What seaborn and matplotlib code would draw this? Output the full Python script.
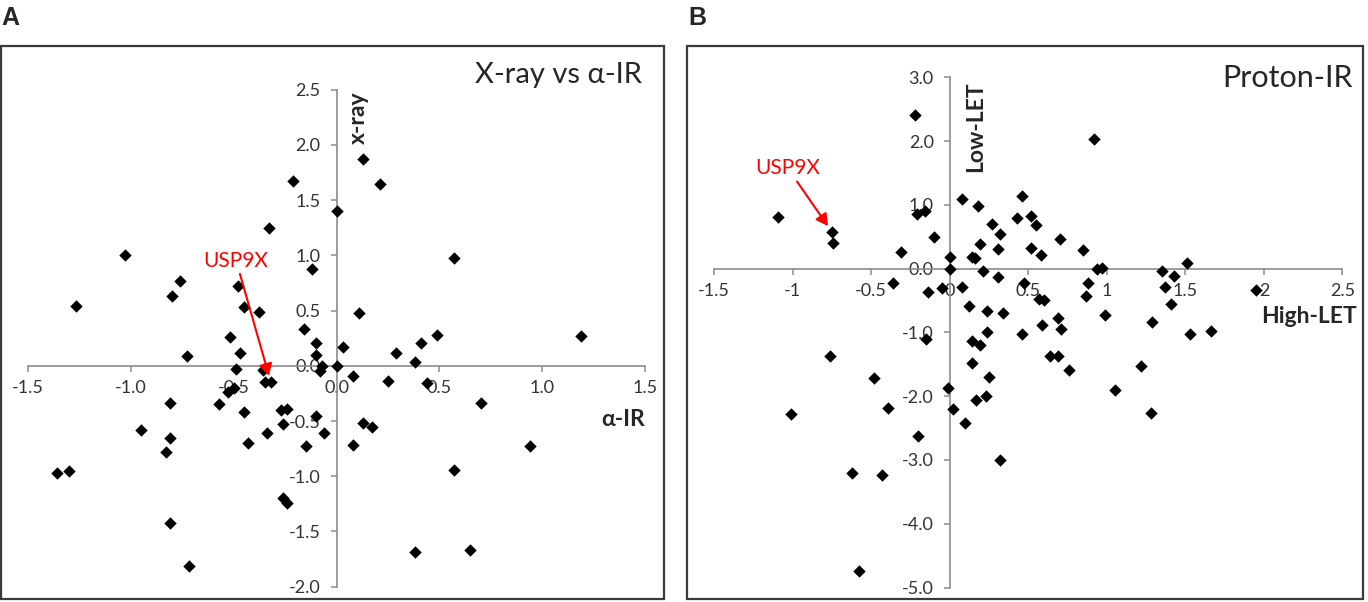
import numpy as np
import pandas as pd
import matplotlib
matplotlib.use('Agg')
import matplotlib.pyplot as plt
from matplotlib.patches import Rectangle
import seaborn as sns

# panel A : x-ray (y) vs alpha-IR (x)
a_ir = [-1.27, -1.03, -0.76, -0.80, -0.21, -0.33, 0.00, -0.48, -0.45, -0.38,
        -0.12, -0.16, -0.52, 0.13, 0.21, 0.57, 0.11, 0.49, 1.19, 0.41,
        0.03, 0.00, 0.08, 0.29, 0.38, 0.25, 0.44, 0.70, 0.13, 0.17,
        0.08, 0.94, 0.57, 0.38, 0.65, -0.73, -0.47, -0.49, -0.36, -0.35,
        -0.32, -0.53, -0.50, -0.57, -0.81, -0.45, -0.95, -0.81, -0.83, -0.43,
        -0.34, -0.27, -0.24, -0.26, -1.36, -1.30, -0.81, -0.26, -0.24, -0.72,
        -0.10, -0.10, -0.07, -0.08, -0.10, -0.06, -0.15]
a_xray = [0.54, 1.00, 0.77, 0.63, 1.67, 1.25, 1.40, 0.72, 0.53, 0.49,
          0.88, 0.33, 0.26, 1.87, 1.65, 0.98, 0.48, 0.28, 0.27, 0.21,
          0.17, 0.00, -0.09, 0.12, 0.03, -0.14, -0.16, -0.34, -0.52, -0.55,
          -0.72, -0.73, -0.94, -1.69, -1.67, 0.09, 0.12, -0.03, -0.04, -0.15,
          -0.15, -0.24, -0.20, -0.35, -0.34, -0.42, -0.58, -0.65, -0.78, -0.70,
          -0.61, -0.40, -0.39, -0.53, -0.97, -0.95, -1.42, -1.20, -1.24, -1.81,
          0.21, 0.10, 0.00, -0.05, -0.45, -0.61, -0.73]
a_usp9x = (-0.32, -0.15)

# panel B : low-LET (y) vs high-LET (x), proton
b_high = [-0.22, -1.09, -0.75, -0.74, -0.21, -0.16, -0.10, -0.31, 0.00, 0.00,
          -0.36, -0.14, -0.05, 0.08, 0.18, 0.46, 0.43, 0.52, 0.55, 0.27,
          0.32, 0.19, 0.31, 0.14, 0.16, 0.21, 0.31, 0.52, 0.58, 0.70,
          0.85, 0.94, 0.97, 0.88, 0.87, 0.47, 0.57, 0.60, 0.99, 0.69,
          0.71, 0.59, 0.46, 0.34, 0.24, 0.12, 0.08, 0.24, 0.14, 0.19,
          -0.15, 0.14, 0.64, 0.69, 0.76, 0.25, -0.01, 1.05, 0.02, 0.17,
          0.23, 0.10, 0.32, -0.39, -0.20, -0.43, -0.76, -0.48, -1.01, -0.62,
          -0.58, 0.92, 1.35, 1.43, 1.51, 1.37, 1.41, 1.95, 1.29, 1.53,
          1.66, 1.22, 1.28]
b_low = [2.41, 0.81, 0.58, 0.40, 0.85, 0.91, 0.50, 0.26, 0.18, 0.00,
         -0.23, -0.36, -0.31, 1.09, 0.99, 1.14, 0.79, 0.83, 0.68, 0.70,
         0.55, 0.38, 0.31, 0.19, 0.17, -0.03, -0.13, 0.32, 0.22, 0.46,
         0.30, -0.01, 0.01, -0.22, -0.43, -0.23, -0.48, -0.49, -0.72, -0.77,
         -0.94, -0.88, -1.02, -0.69, -0.67, -0.58, -0.28, -1.00, -1.14, -1.19,
         -1.11, -1.48, -1.37, -1.37, -1.59, -1.70, -1.87, -1.90, -2.20, -2.06,
         -1.99, -2.42, -3.00, -2.18, -2.63, -3.24, -1.37, -1.71, -2.28, -3.21,
         -4.74, 2.03, -0.03, -0.11, 0.09, -0.29, -0.55, -0.34, -0.83, -1.03,
         -0.98, -1.53, -2.27]
b_usp9x = (-0.75, 0.58)

a_xticks = [-1.5, -1.0, -0.5, 0.0, 0.5, 1.0, 1.5]
a_yticks = [-2.0, -1.5, -1.0, -0.5, 0.0, 0.5, 1.0, 1.5, 2.0, 2.5]
b_xticks = [-1.5, -1, -0.5, 0, 0.5, 1, 1.5, 2, 2.5]
b_yticks = [-5.0, -4.0, -3.0, -2.0, -1.0, 0.0, 1.0, 2.0, 3.0]
b_xticklabels = ['-1.5', '-1', '-0.5', '0', '0.5', '1', '1.5', '2', '2.5']

sns.set_style('white')
plt.rcParams['font.family'] = ['Lato', 'DejaVu Sans']

fig = plt.figure(figsize=(13.68, 6.02), dpi=100)
W, H = 1368, 602

def px(x0, y0, x1, y1):
    # pixel box -> figure fraction box
    return [x0 / W, 1 - y1 / H, (x1 - x0) / W, (y1 - y0) / H]

axA = fig.add_axes(px(28.3, 89.7, 645, 586.7))
axB = fig.add_axes(px(714, 77.4, 1342.5, 587.5))

def cross_axes(ax, xlim, ylim, xt, yt, xtl, ytl):
    ax.set_xlim(xlim)
    ax.set_ylim(ylim)
    for s in ['top', 'right']:
        ax.spines[s].set_visible(False)
    for s in ['left', 'bottom']:
        ax.spines[s].set_position(('data', 0))
        ax.spines[s].set_color('#8c8c8c')
        ax.spines[s].set_linewidth(1.2)
    ax.set_xticks(xt)
    ax.set_xticklabels(xtl)
    ax.set_yticks(yt)
    ax.set_yticklabels(ytl)
    ax.tick_params(axis='x', direction='out', length=4.5, width=1.1, color='#8c8c8c',
                   pad=6, labelsize=13, labelcolor='#333333', bottom=True)
    ax.tick_params(axis='y', direction='out', length=4.5, width=1.1, color='#8c8c8c',
                   pad=7, labelsize=13, labelcolor='#333333', left=True)
    ax.set_xlabel('')
    ax.set_ylabel('')
    ax.patch.set_alpha(0)

dfA = pd.DataFrame({'alpha': a_ir, 'xray': a_xray})
sns.scatterplot(data=dfA, x='alpha', y='xray', ax=axA, marker='D', color='black',
                s=40, linewidth=0, zorder=3)
cross_axes(axA, (-1.5, 1.5), (-2.0, 2.5), a_xticks, a_yticks,
           ['%.1f' % v for v in a_xticks], ['%.1f' % v for v in a_yticks])

dfB = pd.DataFrame({'high': b_high, 'low': b_low})
sns.scatterplot(data=dfB, x='high', y='low', ax=axB, marker='D', color='black',
                s=40, linewidth=0, zorder=3)
cross_axes(axB, (-1.5, 2.5), (-5.0, 3.0), b_xticks, b_yticks,
           b_xticklabels, ['%.1f' % v for v in b_yticks])

# axis titles, Excel-style inside the plot area
axA.text(0.105, 2.25, 'x-ray', rotation=90, ha='center', va='center',
         fontsize=16.5, fontweight='bold')
axA.text(1.5, -0.49, 'α-IR', ha='right', va='center', fontsize=16.5, fontweight='bold')
axB.text(0.165, 2.22, 'Low-LET', rotation=90, ha='center', va='center',
         fontsize=16.5, fontweight='bold')
axB.text(2.59, -0.745, 'High-LET', ha='right', va='center', fontsize=16.5,
         fontweight='bold')

# USP9X call-outs
arrow = dict(arrowstyle='-|>,head_length=0.5,head_width=0.28', color='red', lw=1.5,
             shrinkA=0, shrinkB=5, mutation_scale=14)
axA.annotate('USP9X', xy=a_usp9x, xytext=(-0.489, 0.953), ha='center', va='center',
             color='red', fontsize=15, arrowprops=arrow)
axB.annotate('USP9X', xy=b_usp9x, xytext=(-1.03, 1.575), ha='center', va='center',
             color='red', fontsize=15, arrowprops=arrow)

# chart titles
fig.text(642 / W, 1 - 75 / H, 'X-ray vs α-IR', ha='right', va='center', fontsize=21)
fig.text(1353 / W, 1 - 78 / H, 'Proton-IR', ha='right', va='center', fontsize=22)

# chart-area borders and panel letters
for box in [(1, 46, 664, 599), (687, 46, 1363, 599)]:
    fig.patches.append(Rectangle((box[0] / W, 1 - box[3] / H), (box[2] - box[0]) / W,
                                 (box[3] - box[1]) / H, transform=fig.transFigure,
                                 fill=False, edgecolor='#3a3a3a', lw=1.6))
fig.text(1 / W, 1 - 25 / H, 'A', ha='left', va='baseline', fontsize=18,
         fontweight='bold', family='Liberation Sans')
fig.text(688 / W, 1 - 25 / H, 'B', ha='left', va='baseline', fontsize=18,
         fontweight='bold', family='Liberation Sans')

fig.savefig('out.png', dpi=100)
